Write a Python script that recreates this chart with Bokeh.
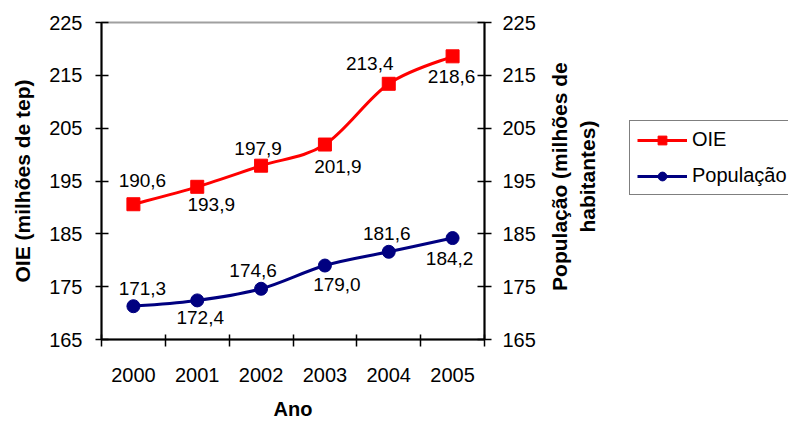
import math
from bokeh.plotting import figure
from bokeh.layouts import row
from bokeh.models import (ColumnDataSource, Range1d, LinearAxis,
                          FixedTicker, Legend, LegendItem, Label)
from bokeh.core.properties import value
from bokeh.embed import file_html
from bokeh.resources import INLINE

# ---- data ----
years = ["2000", "2001", "2002", "2003", "2004", "2005"]
oie = [190.6, 193.9, 197.9, 201.9, 213.4, 218.6]
populacao = [171.3, 172.4, 174.6, 179.0, 181.6, 184.2]
y_ticks = [165, 175, 185, 195, 205, 215, 225]
series_names = ["OIE", "População"]

# ---- style ----
FONT = "Liberation Sans"
RED = "#FF0000"
NAVY = "#000080"
oie_off_x = [9, 14, -3, 13, -19, -1]
oie_off_y = [-24, 18, -17, 22, -20, 20]
pop_off_x = [9, 3, -8, 12, -2, -3]
pop_off_y = [-18, 17, -18, 19, -18, 20]

n = len(years)
xc = [i + 0.5 for i in range(n)]          # category centres on a 0..n axis

W_MAIN, W_SIDE, H = 540, 248, 422
B_TOP, B_BOTTOM = 22, 79
FRAME_H = H - B_TOP - B_BOTTOM

p = figure(width=W_MAIN, height=H,
           x_range=Range1d(0, n), y_range=Range1d(y_ticks[0], y_ticks[-1]),
           output_backend="svg", toolbar_location=None,
           x_axis_location=None, y_axis_location=None,
           min_border_left=101, min_border_right=56, min_border_top=B_TOP, min_border_bottom=B_BOTTOM)
p.extra_y_ranges = {"right": Range1d(y_ticks[0], y_ticks[-1])}
p.background_fill_color = "white"
p.border_fill_color = "white"
p.outline_line_color = "#A0A0A0"
p.outline_line_width = 2
for g in p.grid:
    g.visible = False

# ---- axes ----
def style_y(ax, tin, tout, standoff):
    ax.ticker = FixedTicker(ticks=y_ticks)
    ax.axis_line_color = "black"
    ax.axis_line_width = 2
    ax.major_tick_line_color = "black"
    ax.major_tick_line_width = 1.5
    ax.major_tick_in = tin
    ax.major_tick_out = tout
    ax.minor_tick_line_color = None
    ax.major_label_text_font = FONT
    ax.major_label_text_font_size = "20px"
    ax.major_label_text_color = "black"
    ax.major_label_standoff = standoff
    ax.axis_label_text_font = FONT
    ax.axis_label_text_font_size = "21px"
    ax.axis_label_text_font_style = "bold"
    ax.axis_label_text_color = "black"

left_ax = LinearAxis(axis_label="OIE (milhões de tep)")
style_y(left_ax, 7, 6, 13)
left_ax.axis_label_standoff = 12
p.add_layout(left_ax, "left")

right_ax = LinearAxis(y_range_name="right")
style_y(right_ax, 7, 7, 11)
p.add_layout(right_ax, "right")

x_ax = LinearAxis(ticker=FixedTicker(ticks=xc, minor_ticks=list(range(n + 1))),
                  major_label_overrides={c: y for c, y in zip(xc, years)},
                  axis_label="Ano")
x_ax.axis_line_color = "black"
x_ax.axis_line_width = 2
x_ax.major_tick_line_color = None
x_ax.major_tick_in = 0
x_ax.major_tick_out = 0
x_ax.minor_tick_line_color = "black"
x_ax.minor_tick_line_width = 1.5
x_ax.minor_tick_in = 5
x_ax.minor_tick_out = 7
x_ax.major_label_text_font = FONT
x_ax.major_label_text_font_size = "20px"
x_ax.major_label_text_color = "black"
x_ax.major_label_standoff = 21
x_ax.axis_label_text_font = FONT
x_ax.axis_label_text_font_size = "20px"
x_ax.axis_label_text_font_style = "bold"
x_ax.axis_label_text_color = "black"
x_ax.axis_label_standoff = 13
p.add_layout(x_ax, "below")

# ---- smoothed lines (Catmull-Rom Bezier through the data points) ----
def bezier_source(vals):
    d = dict(x0=[], y0=[], x1=[], y1=[], cx0=[], cy0=[], cx1=[], cy1=[])
    m = len(vals)
    for i in range(m - 1):
        i0, i3 = max(i - 1, 0), min(i + 2, m - 1)
        d["x0"].append(xc[i]); d["y0"].append(vals[i])
        d["x1"].append(xc[i + 1]); d["y1"].append(vals[i + 1])
        d["cx0"].append(xc[i] + (xc[i + 1] - xc[i0]) / 6)
        d["cy0"].append(vals[i] + (vals[i + 1] - vals[i0]) / 6)
        d["cx1"].append(xc[i + 1] - (xc[i3] - xc[i]) / 6)
        d["cy1"].append(vals[i + 1] - (vals[i3] - vals[i]) / 6)
    return ColumnDataSource(d)

p.bezier(x0="x0", y0="y0", x1="x1", y1="y1", cx0="cx0", cy0="cy0", cx1="cx1", cy1="cy1",
         source=bezier_source(oie), line_color=RED, line_width=3)
p.bezier(x0="x0", y0="y0", x1="x1", y1="y1", cx0="cx0", cy0="cy0", cx1="cx1", cy1="cy1",
         source=bezier_source(populacao), line_color=NAVY, line_width=3, y_range_name="right")

def fmt(v):
    return f"{v:.1f}".replace(".", ",")

src_oie = ColumnDataSource(dict(x=xc, y=oie, t=[fmt(v) for v in oie], ox=oie_off_x, oy=oie_off_y))
src_pop = ColumnDataSource(dict(x=xc, y=populacao, t=[fmt(v) for v in populacao], ox=pop_off_x, oy=pop_off_y))

p.scatter("x", "y", source=src_oie, marker="square", size=13, fill_color=RED, line_color=RED)
p.scatter("x", "y", source=src_pop, marker="circle", size=13, fill_color=NAVY, line_color=NAVY,
          y_range_name="right")

for src, rng in ((src_oie, "default"), (src_pop, "right")):
    p.text("x", "y", text="t", source=src, x_offset="ox", y_offset="oy",
           text_font=value(FONT), text_font_size="19px", text_color="black",
           text_align="center", text_baseline="middle", y_range_name=rng)

# ---- side panel: right-axis title and legend (pixel-unit ranges, y from frame bottom) ----
q = figure(width=W_SIDE, height=H, x_range=Range1d(0, W_SIDE), y_range=Range1d(0, FRAME_H),
           output_backend="svg", toolbar_location=None,
           x_axis_location=None, y_axis_location=None,
           min_border_left=0, min_border_right=0, min_border_top=B_TOP, min_border_bottom=B_BOTTOM)
q.outline_line_color = None
q.background_fill_color = "white"
q.border_fill_color = "white"
for g in q.grid:
    g.visible = False

q.add_layout(Label(x=19, y=165, text="População (milhões de", angle=math.pi / 2,
                   text_font=FONT, text_font_size="21px", text_font_style="bold",
                   text_color="black", text_align="center", text_baseline="middle"))
q.add_layout(Label(x=47, y=165, text="habitantes)", angle=math.pi / 2,
                   text_font=FONT, text_font_size="21px", text_font_style="bold",
                   text_color="black", text_align="center", text_baseline="middle"))

# legend keys: same series, drawn on an out-of-view range so only the keys show
q.extra_y_ranges = {"series": Range1d(-1000, -999)}
l_oie = q.line(x=xc, y=oie, line_color=RED, line_width=3, y_range_name="series")
m_oie = q.scatter(x=xc, y=oie, marker="square", size=13, fill_color=RED, line_color=RED,
                  y_range_name="series")
l_pop = q.line(x=xc, y=populacao, line_color=NAVY, line_width=3, y_range_name="series")
m_pop = q.scatter(x=xc, y=populacao, marker="circle", size=13, fill_color=NAVY, line_color=NAVY,
                  y_range_name="series")

legend = Legend(items=[LegendItem(label=series_names[0], renderers=[l_oie, m_oie]),
                       LegendItem(label=series_names[1], renderers=[l_pop, m_pop])],
                location=(89, 144), border_line_color="black", border_line_width=1,
                background_fill_color="white", background_fill_alpha=1,
                label_text_font=FONT, label_text_font_size="20px", label_text_color="black",
                padding=7, spacing=13, glyph_width=50, glyph_height=22, label_height=22,
                label_standoff=5, margin=0)
q.add_layout(legend)

layout = row(p, q, spacing=0)
open("out.html", "w").write(file_html(layout, INLINE))
